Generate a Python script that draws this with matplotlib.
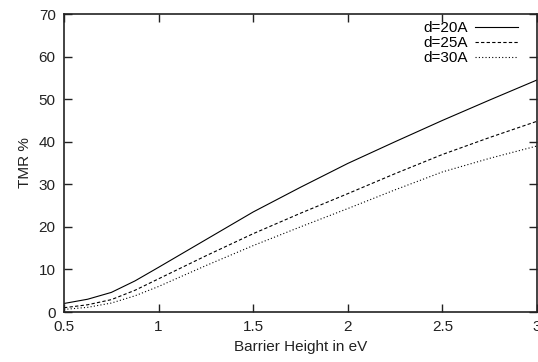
import matplotlib
matplotlib.use("Agg")
import matplotlib.pyplot as plt

barrier_height = [0.5, 0.625, 0.75, 0.875, 1.0, 1.25, 1.5, 1.75, 2.0, 2.25, 2.5, 2.75, 3.0]
tmr_d20 = [2.0, 3.0, 4.6, 7.3, 10.5, 17.0, 23.5, 29.3, 34.9, 40.0, 45.0, 49.8, 54.5]
tmr_d25 = [1.0, 1.7, 2.9, 5.1, 7.8, 13.2, 18.4, 23.2, 27.8, 32.5, 37.0, 41.0, 44.8]
tmr_d30 = [0.6, 1.1, 2.1, 3.8, 6.0, 10.9, 15.6, 20.0, 24.3, 28.7, 32.9, 36.1, 39.0]
labels = ["d=20A", "d=25A", "d=30A"]
xticks = [0.5, 1, 1.5, 2, 2.5, 3]
xticklabels = ["0.5", "1", "1.5", "2", "2.5", "3"]
yticks = [0, 10, 20, 30, 40, 50, 60, 70]

plt.rcParams['font.family'] = ['Liberation Sans', 'DejaVu Sans']
plt.rcParams['font.size'] = 11

fig = plt.figure(figsize=(5.38, 3.62), dpi=100)
ax = fig.add_axes([64/538, 1-312/362, (537-64)/538, (312-14)/362])

ax.plot(barrier_height, tmr_d20, color='black', lw=0.8, linestyle='-', label=labels[0])
ax.plot(barrier_height, tmr_d25, color='black', lw=0.8, linestyle=(0, (3, 2)), label=labels[1])
ax.plot(barrier_height, tmr_d30, color='black', lw=0.8, linestyle=(0, (1, 2)), label=labels[2])

ax.set_xlim(0.5, 3)
ax.set_ylim(0, 70)
ax.set_xticks(xticks)
ax.set_xticklabels(xticklabels)
ax.set_yticks(yticks)
ax.tick_params(direction='in', length=5.5, width=1, top=True, right=True, pad=6, colors='#222222')
for s in ax.spines.values():
    s.set_linewidth(1.2)
    s.set_color('#222222')
ax.set_xlabel("Barrier Height in eV", labelpad=4, color='#222222')
ax.set_ylabel("TMR %", labelpad=5, color='#222222')

leg = ax.legend(loc='upper right', frameon=False, markerfirst=False, handlelength=2.8,
                handletextpad=0.5, labelspacing=0.07, borderpad=0.0, borderaxespad=0.0,
                bbox_to_anchor=((518-64)/473, (312-21)/298))

fig.savefig("out.png", dpi=100)
